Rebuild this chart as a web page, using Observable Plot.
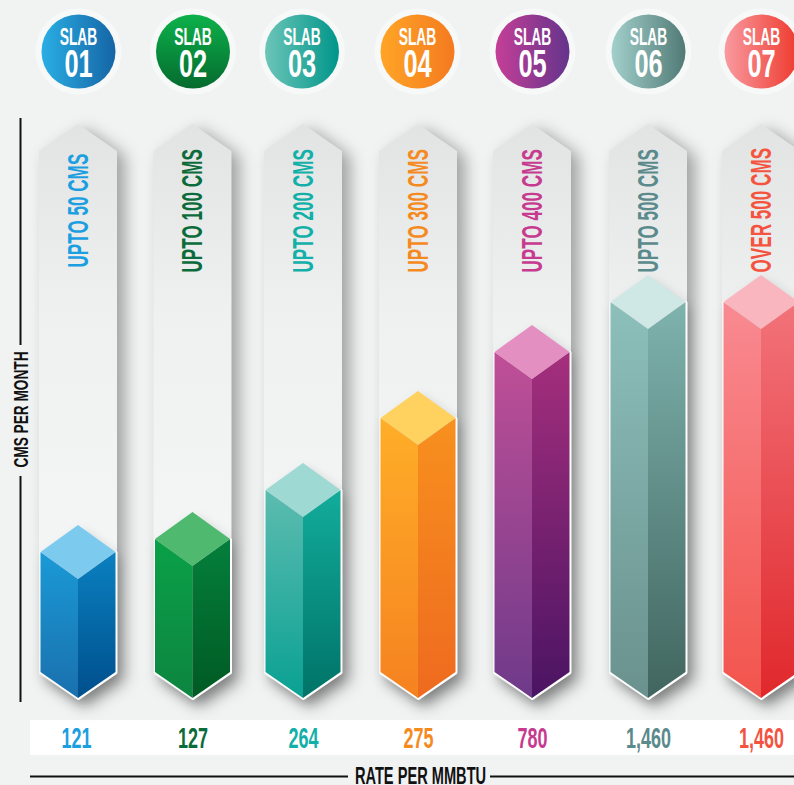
<!DOCTYPE html>
<html><head><meta charset="utf-8">
<style>html,body{margin:0;padding:0;background:#f1f3f3;overflow:hidden}svg{display:block}</style>
<script src="https://cdn.jsdelivr.net/npm/d3@7"></script>
<script src="https://cdn.jsdelivr.net/npm/@observablehq/plot@0.6"></script>
</head><body><div id="chart"></div>
<script>
// ---- values
const slabs = ["01","02","03","04","05","06","07"];
const cmsLabels = ["UPTO 50 CMS","UPTO 100 CMS","UPTO 200 CMS","UPTO 300 CMS","UPTO 400 CMS","UPTO 500 CMS","OVER 500 CMS"];
const rates = ["121","127","264","275","780","1,460","1,460"];
const barHeights = [173,186,235,307,373,423,423];
// ---- layout and style, kept apart from the values
const centers = [78,192.5,303,418,532,648,761];
const badgeCenters = [78,192.5,301.5,417,532,648,761];
const textColors = ["#1c9fe0","#0b6b3a","#12b0a8","#f58a1f","#c63b8f","#5b8a8c","#f4543f"];
const leftFace = [["#1a9ad6","#1a70ad"],["#0aa048","#0d8540"],["#5dbcb0","#09a193"],["#ffae28","#f58220"],["#c04f97","#6e3a8a"],["#8dc0bb","#6a918e"],["#f98a92","#f2544c"]];
const rightFace = [["#0a80c0","#004f8c"],["#047f3c","#005a23"],["#12ac9b","#007368"],["#f8901e","#ee6a1f"],["#a52f7d","#4a1463"],["#7fb3ae","#41655f"],["#f2737a","#e0282c"]];
const topFace = ["#7ccbee","#4fb96f","#9ed9d3","#ffd15f","#e48fc1","#cfe7e5","#f9b6bf"];
const badge = [["#2aaee4","#1565a5"],["#0db14b","#056b2e"],["#6cc5b8","#00958a"],["#ffa526","#f47a20"],["#c53f97","#64348c"],["#a3d0cc","#517a75"],["#f99aa0","#ee3a2d"]];
const HW = 37.5, TW = 39, RISE = 27, BASE_PX = 698;
const FONT = "'Liberation Sans Narrow','Liberation Sans',sans-serif";
const Y = px => BASE_PX - px; // page pixel row to y-scale units

const ctx = document.createElement("canvas").getContext("2d");
// condense text to a fraction of its natural width; no condensed face matches the original
function squeeze(size, factor) {
  return (index, scales, values, dims, context, next) => {
    const g = next(index, scales, values, dims, context);
    ctx.font = `bold ${size}px 'Liberation Sans Narrow','Liberation Sans',sans-serif`;
    g.querySelectorAll("text").forEach(t => {
      t.setAttribute("textLength", (ctx.measureText(t.textContent).width * factor).toFixed(1));
      t.setAttribute("lengthAdjust", "spacingAndGlyphs");
    });
    return g;
  };
}
const blurred = id => (index, scales, values, dims, context, next) => {
  const g = next(index, scales, values, dims, context);
  g.setAttribute("filter", `url(#${id})`);
  return g;
};
const grad = (id, stops, x2, y2) =>
  `<linearGradient id="${id}" x1="0" y1="0" x2="${x2}" y2="${y2}">` +
  stops.map((c, i) => `<stop offset="${i / (stops.length - 1)}" stop-color="${c}"/>`).join("") + `</linearGradient>`;

const defsMark = () => {
  const d = document.createElementNS("http://www.w3.org/2000/svg", "g");
  let s = `<defs><filter id="soft" x="-40%" y="-10%" width="190%" height="125%"><feGaussianBlur stdDeviation="8"/></filter>
  <filter id="soft2" x="-40%" y="-20%" width="190%" height="150%"><feGaussianBlur stdDeviation="6"/></filter>`;
  s += grad("track", ["#e2e4e4", "#eff1f1", "#f3f5f5", "#f5f7f8"], 0, 1);
  slabs.forEach((_, i) => {
    s += grad(`l${i}`, leftFace[i], 0, 1) + grad(`r${i}`, rightFace[i], 0, 1);
    s += grad(`b${i}`, badge[i], i === 1 ? 0 : 1, i === 1 ? 1 : 0);
  });
  d.innerHTML = s + "</defs>";
  return d;
};

// outline of a pointed column whose top tip is h and bottom tip is b
const hexagon = (c, hw, h, b) => [
  {x: c - hw, y1: b + RISE - 1, y2: h - RISE},
  {x: c, y1: b, y2: h},
  {x: c + hw, y1: b + RISE - 1, y2: h - RISE}
];
const poly = (rows, o) => Plot.areaY(rows, {x: "x", y1: "y1", y2: "y2", curve: "linear", ...o});

const TRACK_TOP = Y(124);
const marks = [defsMark];

// value strip
marks.push(Plot.rectY([0], {x1: 30, x2: 794, y1: Y(755), y2: Y(720), fill: "#ffffff"}));

// tracks and their shadows
centers.forEach(c => {
  const shape = hexagon(c, TW, TRACK_TOP, Y(700));
  marks.push(poly(shape.map(d => ({...d, x: d.x + 8, y1: d.y1 - 7, y2: d.y2 - 5})), {fill: "#000", fillOpacity: 0.34, render: blurred("soft")}));
});
centers.forEach(c => {
  marks.push(poly(hexagon(c, TW, TRACK_TOP, Y(700)), {fill: "url(#track)"}));
});

// cms labels
marks.push(Plot.text(cmsLabels, {
  x: (d, i) => centers[i], y: (d, i) => Y(i === 0 ? 267 : 272), text: d => d, rotate: -90, textAnchor: "start",
  fill: (d, i) => textColors[i], fontSize: 29, fontWeight: "bold", fontFamily: FONT, render: squeeze(29, 0.59)
}));

// columns
slabs.forEach((_, i) => {
  const c = centers[i], h = barHeights[i];
  marks.push(poly(hexagon(c, HW, h, 0).map(d => ({...d, x: d.x + 4, y1: d.y1 - 7, y2: d.y2 - 7})), {fill: "#000", fillOpacity: 0.22, render: blurred("soft2")}));
  marks.push(Plot.line(
    [{x: c - HW, y: h - RISE}, {x: c - HW, y: RISE - 1}, {x: c, y: 0}, {x: c + HW, y: RISE - 1}, {x: c + HW, y: h - RISE}],
    {x: "x", y: "y", stroke: "#fff", strokeWidth: 3, strokeLinejoin: "round"}));
  marks.push(poly([{x: c - HW, y1: RISE - 1, y2: h - RISE}, {x: c, y1: 0, y2: h - 2 * RISE}], {fill: `url(#l${i})`}));
  marks.push(poly([{x: c, y1: 0, y2: h - 2 * RISE}, {x: c + HW, y1: RISE - 1, y2: h - RISE}], {fill: `url(#r${i})`}));
  marks.push(poly([{x: c - HW, y1: h - RISE, y2: h - RISE}, {x: c, y1: h - 2 * RISE, y2: h}, {x: c + HW, y1: h - RISE, y2: h - RISE}], {fill: topFace[i]}));
});

// badges
marks.push(Plot.dot(slabs, {x: (d, i) => badgeCenters[i], y: Y(51), r: 43, fill: "#f7f9f9"}));
slabs.forEach((d, i) => marks.push(Plot.dot([d], {x: badgeCenters[i], y: Y(51), r: 37, fill: `url(#b${i})`})));
marks.push(Plot.text(slabs, {x: (d, i) => badgeCenters[i], y: Y(37), text: () => "SLAB", fill: "#fff", fontSize: 23, fontWeight: "bold", fontFamily: FONT, lineAnchor: "middle", render: squeeze(23, 0.60)}));
marks.push(Plot.text(slabs, {x: (d, i) => badgeCenters[i], y: Y(64), text: d => d, fill: "#fff", fontSize: 39, fontWeight: "bold", fontFamily: FONT, lineAnchor: "middle", render: squeeze(39, 0.65)}));

// rates
marks.push(Plot.text(rates, {x: (d, i) => centers[i] - (i === 0 ? 2 : 0), y: Y(738), text: d => d, fill: (d, i) => textColors[i], fontSize: 29, fontWeight: "bold", fontFamily: FONT, lineAnchor: "middle", render: squeeze(29, 0.62)}));

// axis titles and rules
marks.push(Plot.ruleX([20], {y1: Y(118), y2: Y(345), stroke: "#111", strokeWidth: 2}));
marks.push(Plot.ruleX([20], {y1: Y(476), y2: Y(702), stroke: "#111", strokeWidth: 2}));
marks.push(Plot.ruleY([Y(776)], {x1: 30, x2: 348, stroke: "#111", strokeWidth: 2}));
marks.push(Plot.ruleY([Y(776)], {x1: 490, x2: 794, stroke: "#111", strokeWidth: 2}));
marks.push(Plot.text(["CMS PER MONTH"], {x: 21, y: Y(409), text: d => d, rotate: -90, fill: "#111", fontSize: 21, fontWeight: "bold", fontFamily: FONT, render: squeeze(21, 0.65)}));
marks.push(Plot.text(["RATE PER MMBTU"], {x: 420, y: Y(776), text: d => d, fill: "#111", fontSize: 23, fontWeight: "bold", fontFamily: FONT, lineAnchor: "middle", render: squeeze(23, 0.635)}));

const chart = Plot.plot({
  width: 794, height: 785, margin: 0,
  style: {background: "#f1f3f3", overflow: "hidden"},
  x: {type: "linear", domain: [0, 794], range: [0, 794], axis: null},
  y: {type: "linear", domain: [0, BASE_PX], range: [BASE_PX, 0], axis: null},
  marks
});
document.getElementById("chart").append(chart);
</script></body></html>
